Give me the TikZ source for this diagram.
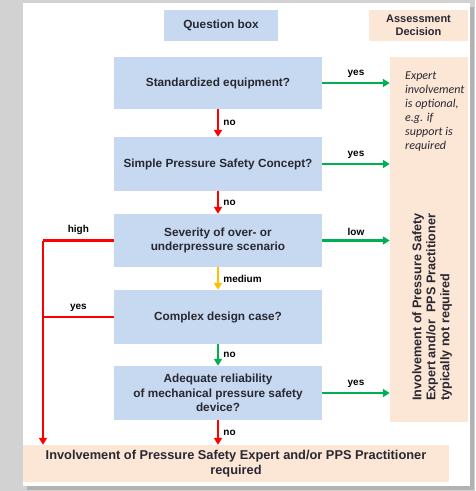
\documentclass[tikz,border=0pt]{standalone}
\usepackage{fontspec}
\setmainfont{Liberation Sans}
\newfontfamily\notefont{Carlito}
\usetikzlibrary{arrows.meta, positioning}
\definecolor{qblue}{RGB}{198,217,240}
\definecolor{peach}{RGB}{252,230,214}
\definecolor{okgreen}{RGB}{0,176,80}
\definecolor{warnred}{RGB}{255,0,0}
\definecolor{midyellow}{RGB}{255,192,0}
\definecolor{inktext}{RGB}{40,40,50}

\begin{document}
\begin{tikzpicture}[
        x=1pt,y=-1pt,>={Triangle[width=8pt,length=7pt]},
        question/.style={fill=qblue, minimum width=208pt, minimum height=53pt,
          align=center, text=inktext, font=\bfseries\fontsize{11.8}{14.5}\selectfont},
        decision/.style={fill=peach, align=center, text=inktext, font=\bfseries\fontsize{11.8}{14}\selectfont},
        flow/.style={line width=2.8pt, ->},
        lbl/.style={text=black, font=\bfseries\fontsize{10}{12}\selectfont, inner sep=1pt},
        ]
        \useasboundingbox (0,0) rectangle (475,491);
        % page behind the panel
        \fill[gray!35] (0,0) rectangle (475,491);
        \fill[gray!60] (27,7) rectangle (474,490);
        \fill[white] (23,3) rectangle (470,486);

        % headers
        \node[question, minimum width=114pt, minimum height=31pt] (qhead) at (221,25.5) {Question box};
        \node[decision, minimum width=99pt, minimum height=31pt, inner sep=0pt,
          font=\bfseries\fontsize{11}{13}\selectfont] (ahead) at (418.5,25.5) {Assessment\\Decision};

        % questions
        \node[question, minimum height=52pt] (q1) at (218,83) {Standardized equipment?};
        \node[question, minimum height=54pt] (q2) at (218,164) {Simple Pressure Safety Concept?};
        \node[question] (q3) at (218,240.5) {Severity of over- or\\underpressure scenario};
        \node[question, minimum height=54pt] (q4) at (218,317) {Complex design case?};
        \node[question, minimum height=54pt] (q5) at (218,393) {Adequate reliability\\of mechanical pressure safety\\device?};

        % decisions
        \node[decision, minimum width=78pt, minimum height=365pt] (notreq) at (429,239.5) {};
        \node[anchor=north west, align=left, inner sep=0pt, text=inktext,
          font=\notefont\itshape\fontsize{12}{14}\selectfont] (optional) at (405,72)
          {Expert\\involvement\\is optional,\\e.g. if\\support is\\required};
        \node[rotate=90, align=left, inner sep=0pt, text=inktext,
          font=\bfseries\fontsize{12.6}{14}\selectfont] (notreqtext) at (432,307)
          {Involvement of Pressure Safety\\Expert and/or~ PPS Practitioner\\typically not required};
        \node[decision, minimum width=426pt, minimum height=37pt, inner sep=0pt,
          font=\bfseries\fontsize{12.8}{15}\selectfont] (req) at (236,463.5)
          {Involvement of Pressure Safety Expert and/or PPS Practitioner\\required};

        % downward flow
        \draw[flow, warnred] (q1) -- node[lbl, right=3pt] {no} (q2);
        \draw[flow, warnred] (q2) -- node[lbl, right=3pt] {no} (q3);
        \draw[flow, midyellow] (q3) -- node[lbl, right=3pt] {medium} (q4);
        \draw[flow, okgreen] (q4) -- node[lbl, right=3pt] {no} (q5);
        \draw[flow, warnred] (q5) -- node[lbl, right=3pt] {no} (q5 |- req.north);

        % to the right
        \draw[flow, okgreen] (q1.east) -- node[lbl, above=3pt] {yes} (q1.east -| notreq.west);
        \draw[flow, okgreen] (q2.east) -- node[lbl, above=3pt] {yes} (q2.east -| notreq.west);
        \draw[flow, okgreen] (q3.east) -- node[lbl, above=3pt] {low} (q3.east -| notreq.west);
        \draw[flow, okgreen] (q5.east) -- node[lbl, above=3pt] {yes} (q5.east -| notreq.west);

        % to the left
        \coordinate (bend) at (43,240.5);
        \draw[line width=2.8pt, warnred] (q3.west) -- node[lbl, above=3pt] {high} (bend);
        \draw[flow, warnred] (bend) -- (bend |- req.north);
        \draw[line width=2.8pt, warnred] (q4.west) -- node[lbl, above=3pt] {yes} (q4.west -| bend);
      \end{tikzpicture}
\end{document}
